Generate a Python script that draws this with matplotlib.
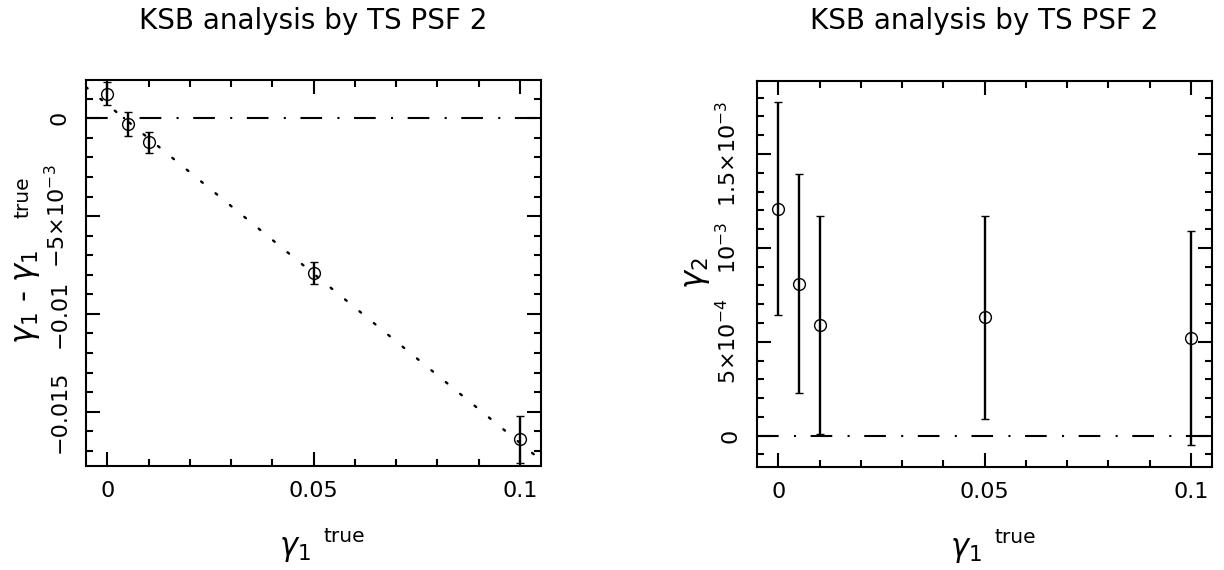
import numpy as np
import matplotlib
matplotlib.use("Agg")
import matplotlib.pyplot as plt
from matplotlib.ticker import FixedLocator, MultipleLocator, FixedFormatter

plt.rcParams['font.family'] = ['DejaVu Sans']
plt.rcParams['mathtext.fontset'] = 'dejavusans'
plt.rcParams['lines.scale_dashes'] = False

# --- data -------------------------------------------------------------
gamma1_true = [0.0, 0.005, 0.01, 0.05, 0.1]

# left panel: gamma1 - gamma1_true
dgamma1 = [0.00126, -0.00029, -0.00123, -0.00791, -0.01641]
dgamma1_err = [0.00060, 0.00060, 0.00053, 0.00058, 0.00120]
fit_intercept = 0.0007
fit_slope = -0.173

# right panel: gamma2
gamma2 = [0.001209, 0.000809, 0.000589, 0.000630, 0.000520]
gamma2_err = [0.000569, 0.000582, 0.000580, 0.000542, 0.000570]

left_yticks = [0.0, -0.005, -0.01, -0.015]
left_yticklabels = ['0', '\u22125\u00d710$^{\u22123}$', '\u22120.01', '\u22120.015']
right_yticks = [0.0, 0.0005, 0.001, 0.0015]
right_yticklabels = ['0', '5\u00d710$^{\u22124}$', '10$^{\u22123}$', '1.5\u00d710$^{\u22123}$']
xticks = [0.0, 0.05, 0.1]
xticklabels = ['0', '0.05', '0.1']

title_text = 'KSB analysis by TS PSF 2'
xlabel_text = r'$\gamma_1$'
left_ylabel_text = r'$\gamma_1$ - $\gamma_1$'
right_ylabel_text = r'$\gamma_2$'
sup_text = 'true'

# --- layout -----------------------------------------------------------
W, H = 1224, 570
PX = 72 / 100  # points per pixel at 100 dpi
fig = plt.figure(figsize=(W / 100, H / 100), dpi=100)
ax1 = fig.add_axes([86 / W, (H - 466) / H, 455 / W, 386 / H])
ax2 = fig.add_axes([757 / W, (H - 466.7) / H, 455 / W, 386 / H])

dashdot = (0, (15.6, 11.0, 1.5, 10.5))
dotted = (0, (1.5, 11.9))
tick_fs = 16
label_fs = 22
sup_fs = 14.5


def style_axes(ax, yticks, yticklabels, yminor):
    ax.set_xlim(-0.0052, 0.1051)
    for s in ax.spines.values():
        s.set_linewidth(1.5)
    ax.xaxis.set_major_locator(FixedLocator(xticks))
    ax.xaxis.set_major_formatter(FixedFormatter(xticklabels))
    ax.xaxis.set_minor_locator(MultipleLocator(0.01))
    ax.yaxis.set_major_locator(FixedLocator(yticks))
    ax.yaxis.set_major_formatter(FixedFormatter(yticklabels))
    ax.yaxis.set_minor_locator(MultipleLocator(yminor))
    ax.tick_params(which='both', direction='in', top=True, right=True,
                   width=1.5, labelsize=tick_fs)
    ax.tick_params(which='major', length=9.8)
    ax.tick_params(which='minor', length=5.3)
    ax.tick_params(axis='x', pad=11)
    ax.tick_params(axis='y', pad=12, labelrotation=90)
    for lab in ax.get_yticklabels():
        lab.set_va('center')
    ax.set_title(title_text, fontsize=20, pad=37)

    # x label: gamma_1 with a detached "true" superscript
    ax.set_xlabel(xlabel_text, fontsize=label_fs)
    ax.xaxis.set_label_coords((294.5 - 86) / 455, -(550 - 466) / 386)
    ax.xaxis.label.set_va('center')
    ax.annotate(sup_text, xy=(1, 1), xycoords=ax.xaxis.label,
                xytext=(13 * PX, -7 * PX), textcoords='offset points',
                ha='left', va='baseline', fontsize=sup_fs)


# left panel
ax1.set_ylim(-0.01778, 0.00196)
style_axes(ax1, left_yticks, left_yticklabels, 0.001)
ax1.axhline(0.0, color='black', lw=1.5, ls=dashdot)
xfit = np.array(ax1.get_xlim())
ax1.plot(xfit, fit_intercept + fit_slope * xfit, color='black', lw=1.7,
         ls=dotted, dash_capstyle='round')
ax1.errorbar(gamma1_true, dgamma1, yerr=dgamma1_err, fmt='o', ms=8.5,
             mfc='none', mec='black', mew=1.0, ecolor='black',
             elinewidth=1.7, capsize=3.0, capthick=1.7)
ax1.set_ylabel(left_ylabel_text, fontsize=label_fs)
ax1.yaxis.set_label_coords(-(86 - 28) / 455, (466 - 297) / 386)
ax1.yaxis.label.set_va('center')
ax1.annotate(sup_text, xy=(0, 1), xycoords=ax1.yaxis.label,
             xytext=(0, 32 * PX), textcoords='offset points',
             ha='left', va='bottom', rotation=90, fontsize=sup_fs)

# right panel
ax2.set_ylim(-0.000165, 0.00189)
style_axes(ax2, right_yticks, right_yticklabels, 0.0001)
ax2.axhline(0.0, color='black', lw=1.5, ls=dashdot)
ax2.errorbar(gamma1_true, gamma2, yerr=gamma2_err, fmt='o', ms=8.5,
             mfc='none', mec='black', mew=1.0, ecolor='black',
             elinewidth=1.7, capsize=3.0, capthick=1.7)
ax2.set_ylabel(right_ylabel_text, fontsize=label_fs)
ax2.yaxis.set_label_coords(-(757 - 697) / 455, (466.7 - 273) / 386)
ax2.yaxis.label.set_va('center')

fig.savefig('out.png', dpi=100)
